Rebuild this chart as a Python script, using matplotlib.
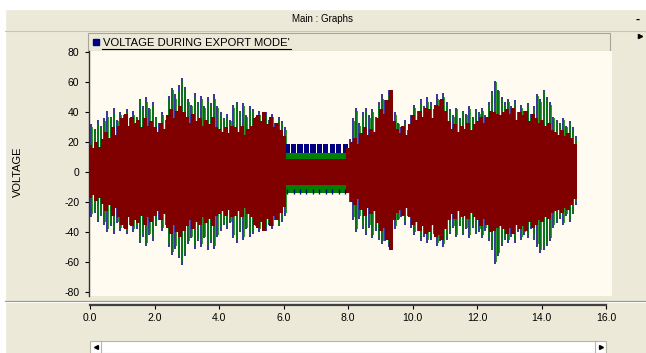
import matplotlib.pyplot as plt
import numpy as np
from matplotlib.patches import Rectangle

plt.rcParams['font.family'] = ['Liberation Sans', 'DejaVu Sans']

# spike times: first part up to 6 s, second part from 8 s to 15 s
t1 = np.round(np.arange(0.0, 6.01, 0.1), 2)
t2 = np.round(np.arange(8.0, 15.01, 0.1), 2)

# peak values of each phase, 0 - 6 s
blue_hi1 = [32, 29, 35, 31, 36, 41, 37, 43, 35, 40,
            38, 42, 36, 41, 37, 49, 44, 50, 43, 47,
            37, 33, 40, 35, 51, 56, 52, 58, 63, 57,
            49, 45, 53, 47, 51, 44, 50, 46, 52, 44,
            40, 36, 39, 35, 45, 47, 41, 46, 38, 44,
            42, 37, 41, 36, 40, 35, 39, 33, 37, 34, 30]
green_hi1 = [30, 28, 33, 30, 34, 37, 36, 39, 34, 38,
             35, 40, 35, 38, 36, 48, 42, 47, 42, 45,
             36, 32, 38, 34, 48, 55, 49, 54, 61, 55,
             47, 44, 50, 46, 49, 43, 47, 45, 49, 43,
             38, 35, 37, 34, 43, 46, 40, 44, 37, 42,
             40, 36, 38, 35, 38, 34, 37, 32, 35, 33, 28]
red_hi1 = [18, 16, 20, 17, 22, 27, 23, 30, 25, 31,
           36, 39, 31, 37, 33, 35, 30, 36, 31, 34,
           30, 27, 33, 29, 38, 42, 36, 41, 44, 40,
           37, 33, 39, 34, 36, 31, 35, 32, 37, 30,
           29, 27, 30, 26, 31, 30, 27, 31, 25, 29,
           31, 36, 38, 34, 40, 32, 37, 30, 33, 28, 24]
blue_lo1 = [-30, -27, -33, -29, -35, -40, -36, -41, -34, -39,
            -37, -41, -35, -40, -38, -47, -43, -49, -42, -46,
            -36, -32, -39, -35, -50, -55, -51, -57, -62, -56,
            -48, -44, -51, -46, -50, -44, -52, -47, -51, -43,
            -39, -35, -38, -34, -44, -47, -40, -45, -38, -43,
            -41, -36, -40, -35, -39, -35, -38, -32, -36, -33, -29]
green_lo1 = [-28, -26, -31, -28, -33, -38, -34, -38, -33, -37,
             -35, -39, -34, -38, -36, -46, -41, -47, -41, -44,
             -35, -31, -37, -34, -48, -53, -49, -55, -60, -54,
             -46, -43, -49, -45, -48, -43, -49, -45, -49, -42,
             -37, -34, -36, -33, -42, -45, -39, -43, -37, -41,
             -39, -35, -38, -34, -37, -34, -36, -31, -35, -32, -27]
red_lo1 = [-17, -15, -19, -17, -21, -26, -22, -29, -24, -30,
           -35, -38, -30, -36, -32, -34, -29, -35, -30, -33,
           -29, -26, -32, -28, -37, -41, -35, -40, -43, -39,
           -36, -32, -38, -33, -35, -30, -34, -31, -36, -29,
           -28, -26, -29, -25, -30, -29, -26, -30, -24, -28,
           -30, -35, -37, -33, -39, -31, -36, -29, -32, -27, -23]

# peak values of each phase, 8 - 15 s
blue_hi2 = [22, 36, 43, 33, 40, 43, 38, 42, 37, 47,
            52, 48, 55, 50, 40, 33, 30, 35, 28, 38,
            45, 41, 49, 44, 50, 47, 42, 52, 48, 53,
            47, 42, 38, 43, 36, 41, 39, 44, 37, 42,
            40, 43, 38, 47, 54, 61, 55, 50, 47, 49,
            44, 48, 40, 45, 41, 46, 39, 44, 52, 49,
            55, 50, 47, 37, 35, 33, 36, 31, 34, 30, 24]
green_hi2 = [20, 34, 41, 31, 38, 41, 36, 40, 35, 45,
             49, 45, 51, 47, 38, 32, 29, 33, 27, 36,
             43, 39, 46, 42, 47, 45, 40, 49, 45, 50,
             45, 40, 37, 42, 35, 40, 38, 42, 36, 41,
             39, 41, 37, 45, 53, 60, 54, 48, 45, 47,
             42, 46, 38, 43, 40, 44, 37, 42, 51, 47,
             54, 49, 45, 36, 34, 32, 35, 30, 33, 29, 22]
red_hi2 = [16, 20, 23, 19, 26, 30, 25, 29, 27, 36,
           42, 39, 48, 55, 34, 29, 26, 31, 25, 32,
           38, 35, 41, 37, 43, 42, 36, 45, 44, 49,
           41, 34, 29, 32, 27, 31, 29, 33, 28, 32,
           34, 37, 33, 37, 41, 40, 39, 38, 40, 42,
           39, 43, 35, 40, 38, 41, 34, 39, 36, 33,
           35, 31, 33, 28, 27, 25, 28, 24, 26, 23, 19]
blue_lo2 = [-20, -32, -40, -31, -38, -42, -37, -44, -39, -45,
            -48, -46, -50, -52, -38, -32, -30, -35, -29, -37,
            -42, -39, -46, -43, -47, -45, -41, -49, -46, -50,
            -45, -41, -37, -43, -36, -42, -38, -44, -37, -41,
            -40, -44, -39, -46, -52, -61, -56, -49, -45, -47,
            -43, -47, -40, -45, -42, -44, -38, -45, -50, -54,
            -52, -49, -46, -37, -34, -31, -35, -29, -33, -28, -22]
green_lo2 = [-18, -30, -38, -29, -36, -40, -35, -42, -37, -43,
             -46, -44, -48, -50, -36, -31, -29, -33, -28, -35,
             -40, -37, -44, -41, -45, -43, -39, -47, -44, -48,
             -43, -40, -36, -42, -35, -41, -37, -42, -36, -40,
             -38, -42, -37, -44, -51, -60, -54, -47, -43, -45,
             -41, -45, -38, -43, -40, -42, -36, -43, -48, -52,
             -50, -47, -44, -35, -33, -30, -34, -28, -32, -27, -20]
red_lo2 = [-14, -20, -22, -18, -25, -29, -24, -28, -26, -34,
           -39, -37, -45, -52, -32, -27, -25, -29, -24, -30,
           -35, -33, -39, -36, -41, -40, -35, -43, -42, -45,
           -38, -32, -28, -31, -26, -30, -29, -31, -27, -30,
           -32, -36, -31, -35, -40, -39, -37, -36, -38, -41,
           -37, -41, -35, -38, -36, -39, -33, -37, -35, -32,
           -33, -30, -31, -27, -26, -25, -27, -24, -25, -22, -18]

# export mode (6 - 8 s): steady bands
flat_span = [6.0, 8.0]
flat_red = (-8.7, 8.7)
flat_green_top = (8.7, 12.7)
flat_green_bot = (-14.0, -8.7)
flat_blue_t = np.round(np.arange(6.1, 8.0, 0.2), 2)
flat_blue_top = (12.7, 18.7)
flat_blue_bot = (-14.3, -11.0)

yticks = list(range(-80, 81, 20))
xticks = [0, 2, 4, 6, 8, 10, 12, 14, 16]

BG = '#ECE9D8'
CREAM = '#FFFBF0'
NAVY = '#000080'
GREEN = '#008000'
MAROON = '#800000'

W, H = 646, 353


def fbox(x0, y0, x1, y1):
    return [x0 / W, 1 - y1 / H, (x1 - x0) / W, (y1 - y0) / H]


fig = plt.figure(figsize=(W / 100, H / 100), dpi=100, facecolor=BG)

# window chrome in pixel coordinates
bg = fig.add_axes([0, 0, 1, 1], zorder=0)
bg.set_xlim(0, W)
bg.set_ylim(H, 0)
bg.axis('off')
bg.add_patch(Rectangle((0, 0), W, 9, color='white'))
bg.add_patch(Rectangle((0, 0), 5, H, color='white'))
bg.plot([5, W], [30.5, 30.5], color='#C9C5B3', lw=0.8)
bg.text(322, 19.5, 'Main : Graphs', ha='center', va='center', fontsize=7)
bg.text(638, 19.5, '-', ha='center', va='center', fontsize=9, fontweight='bold')
bg.plot([640], [36], marker='>', ms=3, color='black')
bg.add_patch(Rectangle((88, 33), 522, 18, facecolor=BG, edgecolor='#A8A595', lw=0.8))
bg.add_patch(Rectangle((93, 39), 6, 6, color=NAVY))
bg.text(103, 42.5, "VOLTAGE DURING EXPORT MODE'", ha='left', va='center', fontsize=8.1)
bg.plot([102, 291], [49, 49], color='black', lw=0.8)
bg.text(18, 172, 'VOLTAGE', rotation=90, ha='center', va='center', fontsize=8)
bg.plot([5, W], [301, 301], color='#9C9A8C', lw=0.9)
bg.plot([5, W], [302, 302], color='white', lw=0.6)
bg.add_patch(Rectangle((90, 341), 516, 12, facecolor='white', edgecolor='#B8B5A6', lw=0.8))
bg.plot([101, 101], [341, 353], color='#B8B5A6', lw=0.8)
bg.plot([595, 595], [341, 353], color='#B8B5A6', lw=0.8)
bg.plot([95.5], [347], marker='<', ms=2.8, color='black')
bg.plot([600.5], [347], marker='>', ms=2.8, color='black')

# graph panel
ax = fig.add_axes(fbox(89, 51, 612, 296), zorder=1)
ax.set_facecolor(CREAM)
ax.set_xlim(-1 / 32.25, 522 / 32.25 - 1 / 32.25)
ax.set_ylim(-82.6, 80.7)
for s in ['top', 'right', 'bottom']:
    ax.spines[s].set_visible(False)
ax.spines['left'].set_color('#303030')
ax.spines['left'].set_linewidth(1.0)
ax.set_xticks([])
ax.set_yticks(yticks)
ax.set_yticklabels([str(v) for v in yticks], fontsize=7.5)
ax.tick_params(axis='y', direction='out', length=3, width=0.8, pad=4)

# three phases as vertical swings; maroon drawn last so it fills the middle
for tt, bh, bl, gh, gl, rh, rl in [(t1, blue_hi1, blue_lo1, green_hi1, green_lo1, red_hi1, red_lo1),
                                   (t2, blue_hi2, blue_lo2, green_hi2, green_lo2, red_hi2, red_lo2)]:
    ax.vlines(tt + 0.04, bl, bh, colors=NAVY, lw=1.1, zorder=2)
    ax.vlines(tt + 0.055, gl, gh, colors=GREEN, lw=1.15, zorder=3)
    ax.vlines(tt, rl, rh, colors=MAROON, lw=2.6, antialiased=False, zorder=4)

ax.fill_between(flat_span, *flat_green_top, color=GREEN, lw=0, zorder=3)
ax.fill_between(flat_span, *flat_green_bot, color=GREEN, lw=0, zorder=3)
ax.fill_between(flat_span, *flat_red, color=MAROON, lw=0, zorder=5)
ax.bar(flat_blue_t, flat_blue_top[1] - flat_blue_top[0], bottom=flat_blue_top[0],
       width=0.16, color=NAVY, lw=0, zorder=3)
ax.vlines(flat_blue_t, *flat_blue_bot, colors=NAVY, lw=1.0, zorder=4)

# time axis below the panel
ax2 = fig.add_axes(fbox(90, 303, 606, 305), zorder=1)
ax2.patch.set_visible(False)
ax2.set_xlim(0, 16)
for s in ['top', 'right', 'left']:
    ax2.spines[s].set_visible(False)
ax2.spines['bottom'].set_color('#404040')
ax2.spines['bottom'].set_linewidth(1.6)
ax2.set_yticks([])
ax2.set_xticks(xticks)
ax2.set_xticklabels([f'{v:.1f}' for v in xticks], fontsize=7.5)
ax2.tick_params(axis='x', direction='out', length=3, width=0.8, pad=3)

fig.savefig('out.png', dpi=100, facecolor=BG)
